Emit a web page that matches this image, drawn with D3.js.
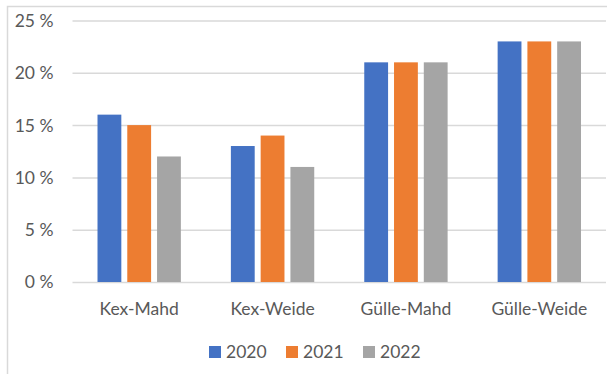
<!DOCTYPE html>
<html>
<head>
<meta charset="utf-8">
<script src="https://cdn.jsdelivr.net/npm/d3@7"></script>
<style>
  html, body { margin: 0; padding: 0; background: #fff; }
  svg { display: block; }
  text { font-family: Lato, "Open Sans", "Liberation Sans", sans-serif; fill: #595959; }
</style>
</head>
<body>
<svg id="chart" width="607" height="374"></svg>
<script>
// Anteile je Variante und Jahr (in Prozent)
const categories = ["Kex-Mahd", "Kex-Weide", "Gülle-Mahd", "Gülle-Weide"];
const years = ["2020", "2021", "2022"];
const values2020 = [16, 13, 21, 23];
const values2021 = [15, 14, 21, 23];
const values2022 = [12, 11, 21, 23];
const yTicks = [0, 5, 10, 15, 20, 25];
const colors = ["#4472C4", "#ED7D31", "#A5A5A5"];

const series = [values2020, values2021, values2022];
const fontSize = 17.5;

const svg = d3.select("#chart");
const W = 607, H = 374;

// chart frame
svg.append("rect")
  .attr("x", 7.5).attr("y", 6.5)
  .attr("width", W + 10).attr("height", H + 10)
  .attr("fill", "none").attr("stroke", "#d9d9d9").attr("stroke-width", 1.5);

const plot = { left: 72.5, right: 606, top: 20.5, bottom: 282 };

const x = d3.scaleBand()
  .domain(categories)
  .range([plot.left, plot.right])
  .paddingInner(0.375)
  .paddingOuter(0.1875);

const xi = d3.scaleBand()
  .domain(years)
  .range([0, x.bandwidth()])
  .paddingInner(0.2);

const y = d3.scaleLinear().domain([0, 25]).range([plot.bottom, plot.top]);

// gridlines + y labels
const yAxis = d3.axisLeft(y)
  .tickValues(yTicks)
  .tickSize(-(plot.right - plot.left))
  .tickPadding(19)
  .tickFormat(d => d + " %");

const gy = svg.append("g")
  .attr("transform", `translate(${plot.left},0)`)
  .call(yAxis);
gy.select(".domain").remove();
gy.selectAll(".tick line").attr("stroke", "#d9d9d9").attr("stroke-width", 1.5);
gy.selectAll(".tick text")
  .attr("font-size", fontSize)
  .attr("dy", "0.34em");

// bars
const groups = svg.append("g").selectAll("g")
  .data(years)
  .join("g")
  .attr("fill", (d, i) => colors[i]);

groups.selectAll("rect")
  .data((yr, i) => categories.map((c, j) => ({ c, yr, v: series[i][j] })))
  .join("rect")
  .attr("x", d => x(d.c) + xi(d.yr))
  .attr("width", xi.bandwidth())
  .attr("y", d => y(d.v))
  .attr("height", d => y(0) - y(d.v));

// category axis
const xAxis = d3.axisBottom(x).tickSize(0).tickPadding(22);
const gx = svg.append("g")
  .attr("transform", `translate(0,${plot.bottom})`)
  .call(xAxis);
gx.select(".domain").remove();
gx.selectAll(".tick text").attr("font-size", fontSize).attr("dy", "0.6em");

// legend
const legendX = [209, 286, 363];
const legend = svg.append("g").selectAll("g")
  .data(years)
  .join("g")
  .attr("transform", (d, i) => `translate(${legendX[i]},346)`);
legend.append("rect")
  .attr("width", 12).attr("height", 12)
  .attr("fill", (d, i) => colors[i]);
legend.append("text")
  .attr("x", 17).attr("y", 6)
  .attr("dy", "0.36em")
  .attr("font-size", fontSize)
  .text(d => d);
</script>
</body>
</html>
